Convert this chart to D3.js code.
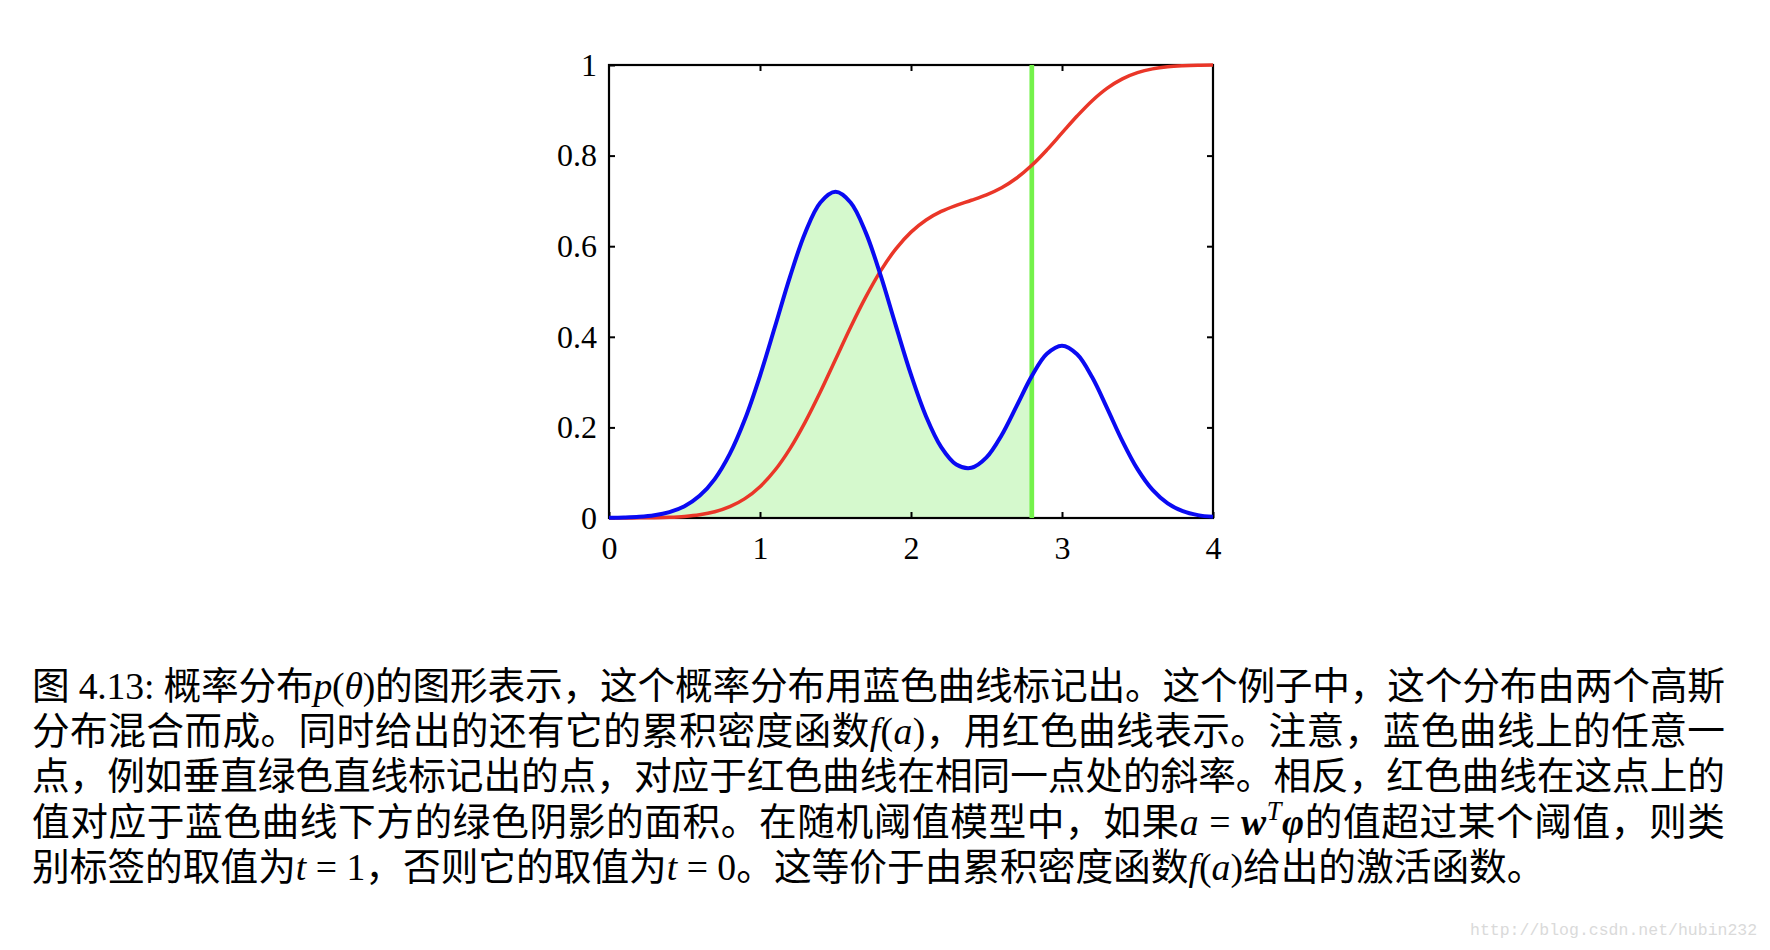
<!DOCTYPE html>
<html>
<head>
<meta charset="utf-8">
<script src="https://cdn.jsdelivr.net/npm/d3@7"></script>
<style>
  html, body { margin: 0; padding: 0; background: #fff; }
  svg { display: block; }
</style>
</head>
<body>
<svg id="chart" width="1770" height="950"></svg>
<script>
// ---- data ----
const xValues = [0.0,0.1,0.2,0.3,0.4,0.5,0.6,0.7,0.8,0.9,1.0,1.1,1.2,1.3,1.4,1.5,1.6,1.7,1.8,1.9,2.0,
                 2.1,2.2,2.3,2.4,2.5,2.6,2.7,2.8,2.9,3.0,3.1,3.2,3.3,3.4,3.5,3.6,3.7,3.8,3.9,4.0];
// blue curve: probability density p(theta)
const densityValues = [0.0004,0.0011,0.0026,0.0060,0.0130,0.0260,0.0489,0.0859,0.1414,0.2178,0.3139,
                       0.4232,0.5340,0.6304,0.6965,0.7200,0.6965,0.6305,0.5343,0.4241,0.3164,
                       0.2242,0.1565,0.1181,0.1108,0.1338,0.1827,0.2475,0.3132,0.3624,0.3804,
                       0.3615,0.3106,0.2415,0.1697,0.1078,0.0619,0.0322,0.0151,0.0064,0.0025];
// red curve: cumulative distribution f(a)
const cumulativeValues = [0.0000,0.0001,0.0003,0.0007,0.0016,0.0035,0.0071,0.0137,0.0249,0.0427,0.0691,
                          0.1059,0.1538,0.2123,0.2787,0.3500,0.4213,0.4877,0.5462,0.5942,0.6311,
                          0.6579,0.6768,0.6902,0.7014,0.7134,0.7290,0.7505,0.7785,0.8126,0.8500,
                          0.8873,0.9212,0.9489,0.9694,0.9831,0.9915,0.9961,0.9983,0.9994,0.9998];
const thresholdX = 2.8;
const xTicks = [0, 1, 2, 3, 4];
const yTicks = [0, 0.2, 0.4, 0.6, 0.8, 1];
const yTickLabels = ["0", "0.2", "0.4", "0.6", "0.8", "1"];

// caption lines: [text, style]
const captionLines = [
  [["图","cjk"],[" 4.13: ","rm"],["概率分布","cjk"],["p","it"],["(","rm"],["θ","it"],[")","rm"],
   ["的图形表示，这个概率分布用蓝色曲线标记出。这个例子中，这个分布由两个高斯","cjk"]],
  [["分布混合而成。同时给出的还有它的累积密度函数","cjk"],["f","it"],["(","rm"],["a","it"],[")","rm"],
   ["，用红色曲线表示。注意，蓝色曲线上的任意一","cjk"]],
  [["点，例如垂直绿色直线标记出的点，对应于红色曲线在相同一点处的斜率。相反，红色曲线在这点上的","cjk"]],
  [["值对应于蓝色曲线下方的绿色阴影的面积。在随机阈值模型中，如果","cjk"],["a","it"],[" = ","rm"],
   ["w","bi"],["T","sup"],["φ","bi"],["的值超过某个阈值，则类","cjk"]],
  [["别标签的取值为","cjk"],["t","it"],[" = 1","rm"],["，否则它的取值为","cjk"],["t","it"],[" = 0","rm"],
   ["。这等价于由累积密度函数","cjk"],["f","it"],["(","rm"],["a","it"],[")","rm"],["给出的激活函数。","cjk"]]
];
const watermark = "http://blog.csdn.net/hubin232";

// ---- drawing ----
const svg = d3.select("#chart");
const x = d3.scaleLinear().domain([0, 4]).range([609, 1213]);
const y = d3.scaleLinear().domain([0, 1]).range([518, 65]);

const pts = xValues.map((v, i) => ({x: v, d: densityValues[i], c: cumulativeValues[i]}));
const shaded = pts.filter(p => p.x <= thresholdX + 1e-9);
const curve = d3.curveCatmullRom.alpha(0.5);

// shaded area
svg.append("path")
  .datum(shaded)
  .attr("fill", "#d5f9cd")
  .attr("d", d3.area().curve(curve).x(p => x(p.x)).y0(y(0)).y1(p => y(p.d)));

// frame
svg.append("rect")
  .attr("x", x(0)).attr("y", y(1))
  .attr("width", x(4) - x(0)).attr("height", y(0) - y(1))
  .attr("fill", "none").attr("stroke", "#000").attr("stroke-width", 2.2);

// axes with inward ticks
const tickFont = "'Liberation Serif', 'Times New Roman', serif";
const gB = svg.append("g").attr("transform", `translate(0,${y(0)})`)
  .call(d3.axisBottom(x).tickValues(xTicks).tickSizeInner(-6).tickSizeOuter(0).tickPadding(18).tickFormat(d3.format("d")));
const gL = svg.append("g").attr("transform", `translate(${x(0)},0)`)
  .call(d3.axisLeft(y).tickValues(yTicks).tickSizeInner(-6).tickSizeOuter(0).tickPadding(12)
        .tickFormat((d, i) => yTickLabels[i]));
const gT = svg.append("g").attr("transform", `translate(0,${y(1)})`)
  .call(d3.axisTop(x).tickValues(xTicks.slice(1, -1)).tickSizeInner(-6).tickSizeOuter(0).tickFormat(""));
const gR = svg.append("g").attr("transform", `translate(${x(4)},0)`)
  .call(d3.axisRight(y).tickValues(yTicks.slice(1, -1)).tickSizeInner(-6).tickSizeOuter(0).tickFormat(""));
[gB, gL, gT, gR].forEach(g => {
  g.select(".domain").remove();
  g.selectAll(".tick line").attr("stroke", "#000").attr("stroke-width", 2);
  g.selectAll("text").attr("font-family", tickFont).attr("font-size", 32).attr("fill", "#000");
});

// threshold line
svg.append("line")
  .attr("x1", x(thresholdX)).attr("x2", x(thresholdX))
  .attr("y1", y(0)).attr("y2", y(1))
  .attr("stroke", "#74f24b").attr("stroke-width", 4.7);

// red cumulative curve
svg.append("path")
  .datum(pts)
  .attr("fill", "none").attr("stroke", "#ea3628").attr("stroke-width", 3.5)
  .attr("d", d3.line().curve(curve).x(p => x(p.x)).y(p => y(p.c)));

// blue density curve
svg.append("path")
  .datum(pts)
  .attr("fill", "none").attr("stroke", "#0a0af2").attr("stroke-width", 4)
  .attr("d", d3.line().curve(curve).x(p => x(p.x)).y(p => y(p.d)));

// caption
const capFS = 37.7;
const capLeft = 32, capRight = 1725, capBase = 699, capStep = 45.2;
const styleOf = {
  cjk: {family: "'Noto Sans CJK SC', sans-serif", style: "normal", weight: "normal"},
  rm:  {family: "'Liberation Serif', serif", style: "normal", weight: "normal"},
  it:  {family: "'Liberation Serif', serif", style: "italic", weight: "normal"},
  bi:  {family: "'Liberation Serif', serif", style: "italic", weight: "bold"},
  sup: {family: "'Liberation Serif', serif", style: "italic", weight: "normal"}
};
captionLines.forEach((segs, li) => {
  const t = svg.append("text")
    .attr("x", capLeft).attr("y", capBase + li * capStep)
    .attr("font-size", capFS).attr("fill", "#000")
    .attr("xml:space", "preserve").style("white-space", "pre");
  let nChars = 0;
  segs.forEach(([txt, st], si) => {
    const s = styleOf[st];
    const ts = t.append("tspan").text(txt)
      .attr("font-family", s.family).attr("font-style", s.style).attr("font-weight", s.weight);
    if (st === "sup") ts.attr("font-size", capFS * 0.7).attr("dy", -15);
    if (si > 0 && segs[si - 1][1] === "sup") ts.attr("dy", 15);
    nChars += Array.from(txt).length;
  });
  if (li < captionLines.length - 1) {
    const w = t.node().getComputedTextLength();
    const ls = (capRight - capLeft - w) / (nChars - 1);
    t.attr("letter-spacing", ls);
  }
});

// watermark
svg.append("text")
  .attr("x", 1470).attr("y", 935)
  .attr("font-family", "'Liberation Mono', monospace").attr("font-size", 16.5)
  .attr("fill", "#dadada")
  .text(watermark);
</script>
</body>
</html>
